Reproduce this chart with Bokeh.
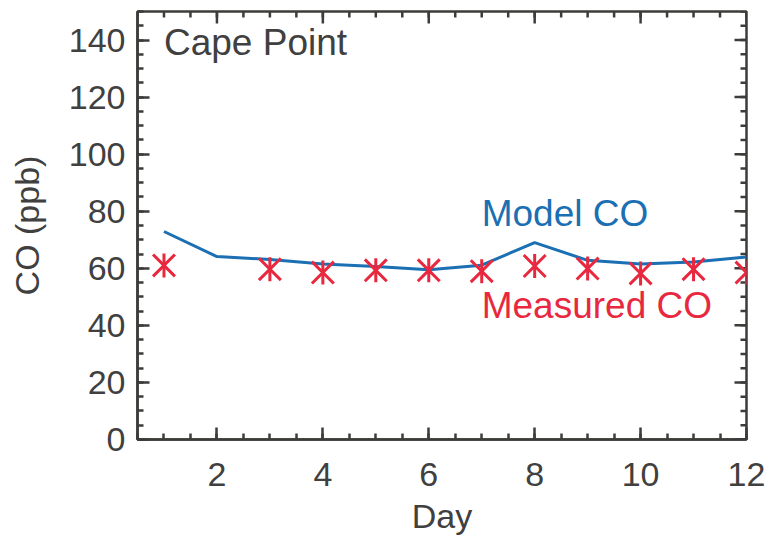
from bokeh.plotting import figure
from bokeh.models import SingleIntervalTicker, Range1d, Label, ColumnDataSource
from bokeh.embed import file_html
from bokeh.resources import INLINE
import numpy as np
import math

# ---- data ----
days = [1, 2, 3, 4, 5, 6, 7, 8, 9, 10, 11, 12]
model_co = [72.9, 64.1, 63.1, 61.5, 60.6, 59.5, 61.1, 69.0, 62.8, 61.5, 62.2, 64.0]
meas_days = [1, 3, 4, 5, 6, 7, 8, 9, 10, 11, 12]
meas_co = [61.0, 59.7, 58.5, 59.3, 59.3, 59.0, 60.8, 59.9, 58.2, 59.7, 58.5]
x_ticks = [2, 4, 6, 8, 10, 12]
y_ticks = [0, 20, 40, 60, 80, 100, 120, 140]
x_lim = (0.5, 12)
y_lim = (0, 150)

AX = "#3c3c3a"
TXT = "#404040"
BLUE = "#1b6fb3"
RED = "#e8283e"
FONT = "Liberation Sans"

p = figure(width=769, height=537, x_range=Range1d(*x_lim), y_range=Range1d(*y_lim),
           output_backend="svg", toolbar_location=None,
           min_border_left=137, min_border_right=23, min_border_top=11, min_border_bottom=95)
p.grid.visible = False
p.outline_line_color = AX
p.outline_line_width = 2.5
p.background_fill_color = "white"
p.border_fill_color = "white"

def style(ax):
    ax.axis_line_color = AX
    ax.axis_line_width = 2.5
    ax.major_tick_line_color = AX
    ax.minor_tick_line_color = AX
    ax.major_tick_line_width = 2.5
    ax.minor_tick_line_width = 2.5
    ax.major_tick_in = 12
    ax.major_tick_out = 0
    ax.minor_tick_in = 6
    ax.minor_tick_out = 0
    ax.major_label_text_font = FONT
    ax.major_label_text_color = TXT
    ax.major_label_text_font_size = "34px"
    ax.axis_label_text_font = FONT
    ax.axis_label_text_color = TXT
    ax.axis_label_text_font_style = "normal"
    ax.axis_label_text_font_size = "34px"

xa = p.xaxis[0]
xa.ticker = SingleIntervalTicker(interval=2, num_minor_ticks=4)
style(xa)
xa.axis_label = "Day"
xa.major_label_standoff = 23
xa.axis_label_standoff = 8

ya = p.yaxis[0]
ya.ticker = SingleIntervalTicker(interval=20, num_minor_ticks=4)
style(ya)
ya.axis_label = "CO (ppb)"
ya.major_label_standoff = 12
ya.axis_label_standoff = 20

# mirrored ticks on top and right (half of each dash is clipped by the frame)
x_minor = np.arange(x_lim[0], x_lim[1] + 0.01, 0.5)
y_minor = np.arange(y_lim[0], y_lim[1] + 0.01, 5)
p.scatter(x_minor, [y_lim[1]] * len(x_minor), marker="dash", angle=math.pi / 2, size=12,
          line_color=AX, line_width=2.5)
p.scatter(x_ticks, [y_lim[1]] * len(x_ticks), marker="dash", angle=math.pi / 2, size=24,
          line_color=AX, line_width=2.5)
p.scatter([x_lim[1]] * len(y_minor), y_minor, marker="dash", size=12, line_color=AX, line_width=2.5)
p.scatter([x_lim[1]] * len(y_ticks), y_ticks, marker="dash", size=24, line_color=AX, line_width=2.5)

# model line
p.line(days, model_co, line_color=BLUE, line_width=3)

# measured asterisks: X plus vertical bar
src = ColumnDataSource(dict(x=meas_days, y=meas_co))
p.scatter("x", "y", source=src, marker="x", size=31, line_color=RED, line_width=3)
p.scatter("x", "y", source=src, marker="dash", angle=math.pi / 2, size=24, line_color=RED, line_width=3)

p.add_layout(Label(x=1.0, y=139.3, text="Cape Point", text_font=FONT, text_font_size="37px",
                   text_color=TXT, text_baseline="alphabetic"))
p.add_layout(Label(x=7.0, y=79.3, text="Model CO", text_font=FONT, text_font_size="37px",
                   text_color=BLUE, text_baseline="alphabetic"))
p.add_layout(Label(x=7.0, y=47.0, text="Measured CO", text_font=FONT, text_font_size="37px",
                   text_color=RED, text_baseline="alphabetic"))

open("out.html", "w").write(file_html(p, INLINE))
